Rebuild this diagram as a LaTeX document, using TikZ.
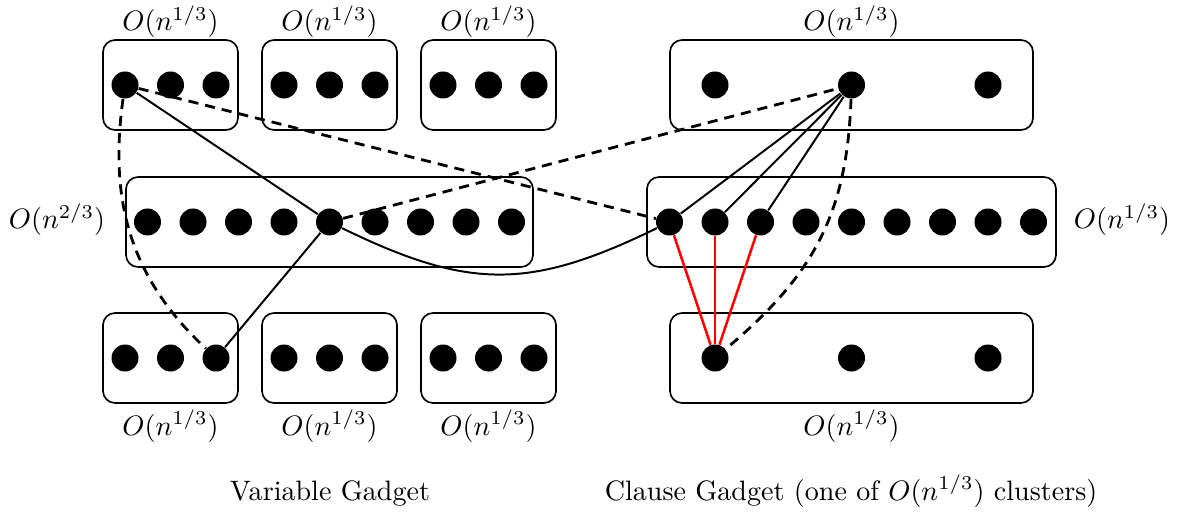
\documentclass[tikz,border=0pt]{standalone}
\begin{document}
\begin{tikzpicture}[x=0.356pt,y=0.356pt,
  dot/.style={circle,fill=black,inner sep=0pt,minimum size={27*0.356pt}},
  box/.style={draw,rounded corners=4.3pt,line width=0.6pt,inner sep=0pt,minimum height={90*0.356pt}},
  sbox/.style={box,minimum width={135*0.356pt}},
  wbox/.style={box,minimum width={407*0.356pt}},
  rbox/.style={box,minimum width={363*0.356pt}},
  rwbox/.style={box,minimum width={409*0.356pt}},
  lab/.style={anchor=base,inner sep=0pt},
  solidedge/.style={line width=0.7pt},
  dashedge/.style={line width=1pt,dash pattern=on 3.6pt off 2.5pt},
  rededge/.style={line width=0.9pt,draw=red}]
\useasboundingbox (0,0) rectangle (1180,-514);
% boxes
\node[sbox] (bt1) at (170.5,-85) {};
\node[sbox] (bt2) at (329.5,-85) {};
\node[sbox] (bt3) at (488.5,-85) {};
\node[wbox] (bm) at (329.5,-222) {};
\node[sbox] (bb1) at (170.5,-358) {};
\node[sbox] (bb2) at (329.5,-358) {};
\node[sbox] (bb3) at (488.5,-358) {};
\node[rbox] (rt) at (851.5,-85) {};
\node[rwbox] (rm) at (851.5,-222) {};
\node[rbox] (rb) at (851.5,-358) {};
% dots variable gadget
\foreach \b/\c in {1/170.5,2/329.5,3/488.5}{
  \foreach \i in {1,2,3}{
    \node[dot] (t\b\i) at ({\c+(\i-2)*45.5},-85) {};
    \node[dot] (b\b\i) at ({\c+(\i-2)*45.5},-358) {};
  }
}
\foreach \i in {1,...,9}{
  \node[dot] (m\i) at ({329.5+(\i-5)*45.5},-222) {};
  \node[dot] (c\i) at ({851.5+(\i-5)*45.5},-222) {};
}
\foreach \i/\x in {1/715,2/851.5,3/988}{
  \node[dot] (ct\i) at (\x,-85) {};
  \node[dot] (cb\i) at (\x,-358) {};
}
% labels
\foreach \n/\x in {1/170.5,2/329.5,3/488.5}{
  \node[lab] (lt\n) at (\x,-31) {$O(n^{1/3})$};
  \node[lab] (lb\n) at (\x,-435) {$O(n^{1/3})$};
}
\node[lab] (lrt) at (851.5,-31) {$O(n^{1/3})$};
\node[lab] (lrb) at (851.5,-435) {$O(n^{1/3})$};
\node[lab] (lml) at (57,-229) {$O(n^{2/3})$};
\node[lab] (lmr) at (1122,-229) {$O(n^{1/3})$};
\node[lab] (cap1) at (330,-500) {Variable Gadget};
\node[lab] (cap2) at (851,-500) {Clause Gadget (one of $O(n^{1/3})$ clusters)};
% edges
\draw[dashedge] (t11) -- (c1);
\draw[dashedge] (t11) to[out=-98,in=137,looseness=1] (b13);
\draw[solidedge] (t11) -- (m5);
\draw[solidedge] (b13) -- (m5);
\draw[solidedge] (m5) to[out=-26,in=-154,looseness=1.15] (c1);
\draw[dashedge] (m5) -- (ct2);
\draw[solidedge] (ct2) -- (c1);
\draw[solidedge] (ct2) -- (c2);
\draw[solidedge] (ct2) -- (c3);
\draw[dashedge] (ct2) to[out=-92,in=40,looseness=1.05] (cb1);
\draw[rededge] (cb1) -- (c1);
\draw[rededge] (cb1) -- (c2);
\draw[rededge] (cb1) -- (c3);
\end{tikzpicture}
\end{document}
